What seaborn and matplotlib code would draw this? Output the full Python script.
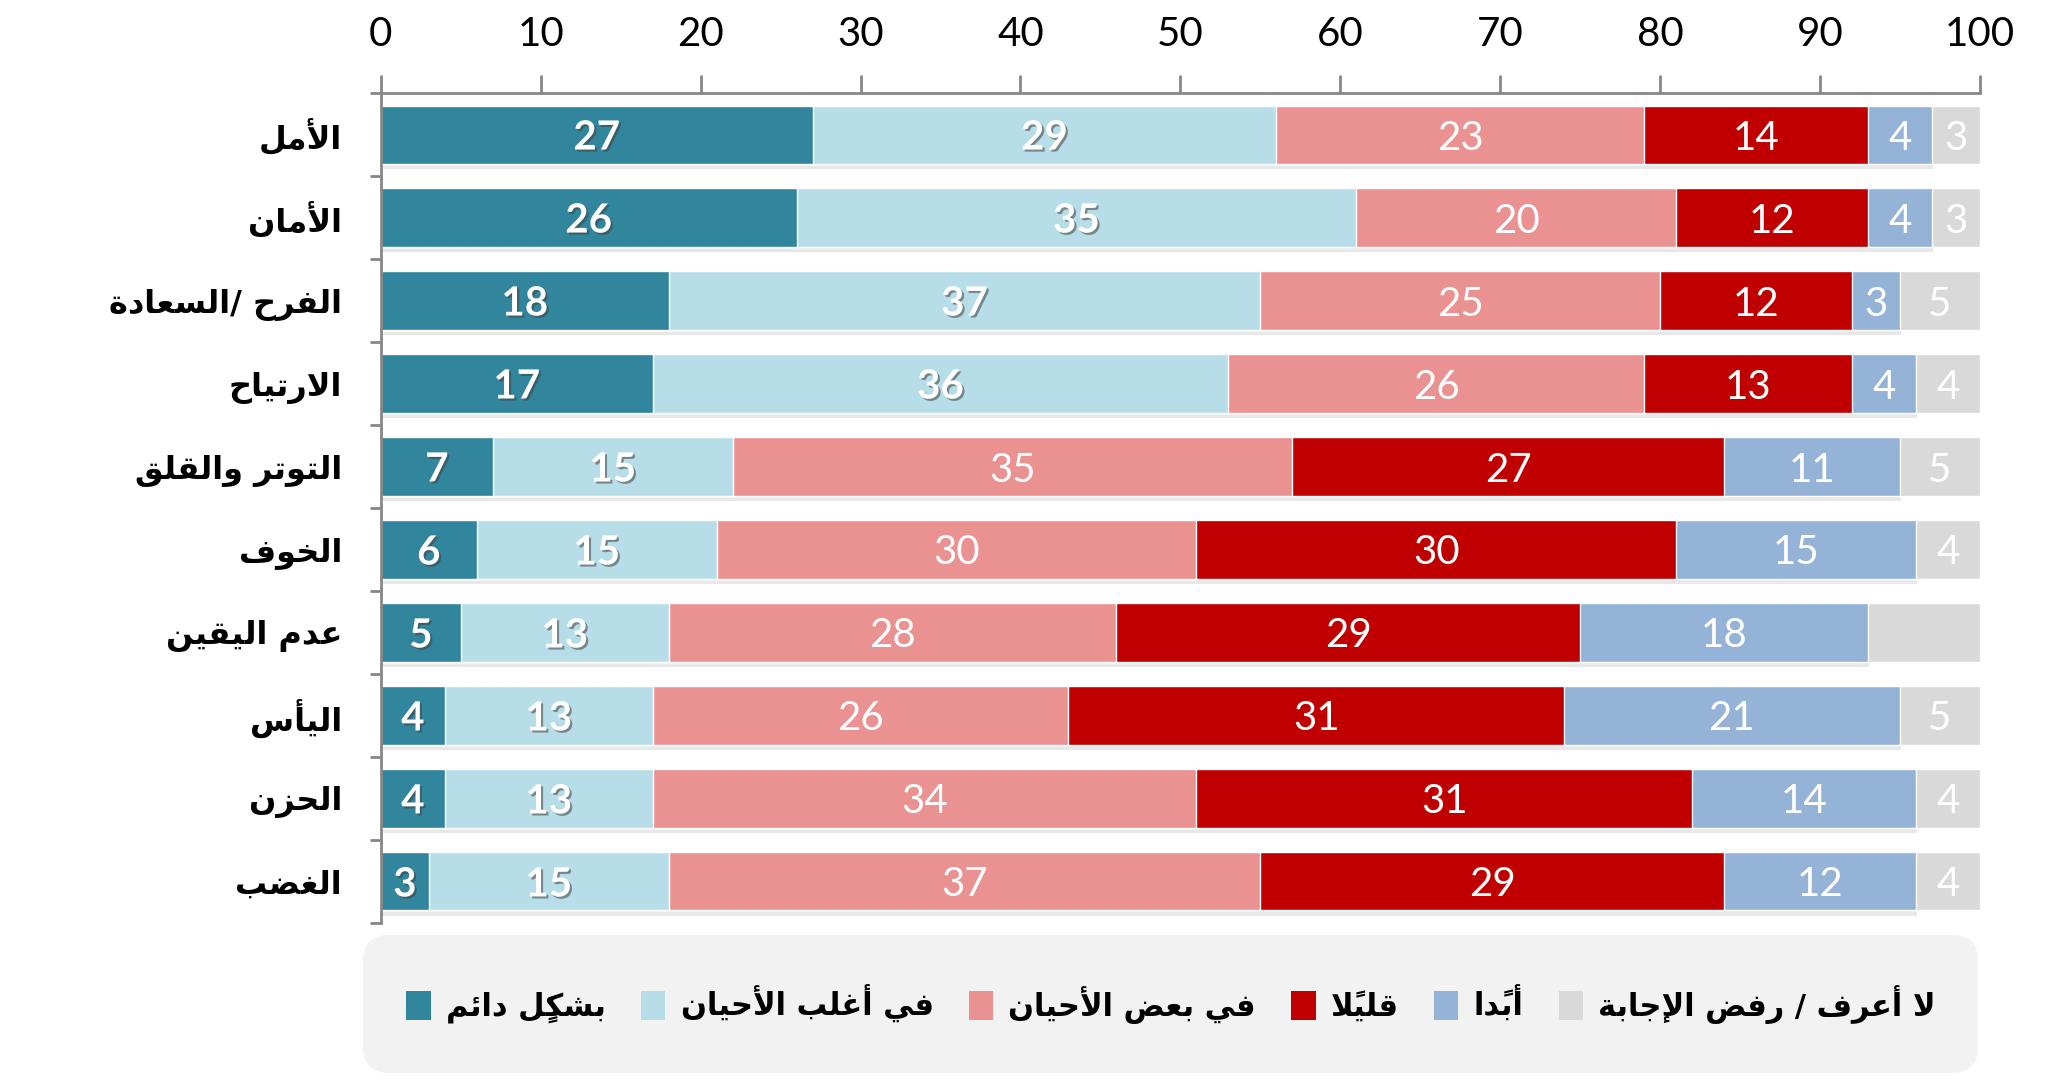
import numpy as np
import pandas as pd
import seaborn as sns
import matplotlib
matplotlib.use("Agg")
import matplotlib.pyplot as plt
import matplotlib.patheffects as pe
from matplotlib.patches import Patch, FancyBboxPatch

# البيانات
emotions = ['الأمل', 'الأمان', 'الفرح /السعادة', 'الارتياح', 'التوتر والقلق',
            'الخوف', 'عدم اليقين', 'اليأس', 'الحزن', 'الغضب']
answers = ['بشكلٍ دائم', 'في أغلب الأحيان', 'في بعض الأحيان', 'قليلًا', 'أبدًا',
           'لا أعرف / رفض الإجابة']
always = [27, 26, 18, 17, 7, 6, 5, 4, 4, 3]
mostly = [29, 35, 37, 36, 15, 15, 13, 13, 13, 15]
sometimes = [23, 20, 25, 26, 35, 30, 28, 26, 34, 37]
rarely = [14, 12, 12, 13, 27, 30, 29, 31, 31, 29]
never = [4, 4, 3, 4, 11, 15, 18, 21, 14, 12]
dont_know = [3, 3, 5, 4, 5, 4, 7, 5, 4, 4]
# the value of "عدم اليقين" in the last series carries no label in the original
dont_know_labelled = [True, True, True, True, True, True, False, True, True, True]
x_ticks = [0, 10, 20, 30, 40, 50, 60, 70, 80, 90, 100]

colors = ['#31859C', '#B7DEE8', '#EA9192', '#C00000', '#95B3D7', '#D9D9D9']

# matplotlib has no arabic shaping: use presentation forms and reverse
RIGHT = {'آ': 0xFE81, 'أ': 0xFE83, 'ؤ': 0xFE85, 'إ': 0xFE87, 'ا': 0xFE8D, 'ة': 0xFE93,
         'د': 0xFEA9, 'ذ': 0xFEAB, 'ر': 0xFEAD, 'ز': 0xFEAF, 'و': 0xFEED, 'ى': 0xFEEF}
DUAL = {'ئ': 0xFE89, 'ب': 0xFE8F, 'ت': 0xFE95, 'ث': 0xFE99, 'ج': 0xFE9D, 'ح': 0xFEA1,
        'خ': 0xFEA5, 'س': 0xFEB1, 'ش': 0xFEB5, 'ص': 0xFEB9, 'ض': 0xFEBD, 'ط': 0xFEC1,
        'ظ': 0xFEC5, 'ع': 0xFEC9, 'غ': 0xFECD, 'ف': 0xFED1, 'ق': 0xFED5, 'ك': 0xFED9,
        'ل': 0xFEDD, 'م': 0xFEE1, 'ن': 0xFEE5, 'ه': 0xFEE9, 'ي': 0xFEF1}
LAM_ALEF = {'آ': 0xFEF5, 'أ': 0xFEF7, 'إ': 0xFEF9, 'ا': 0xFEFB}
MARKS = set(chr(c) for c in range(0x064B, 0x0653)) | {'\u0670'}


def shape_ar(text):
    units = []
    i = 0
    while i < len(text):
        ch = text[i]
        if ch in MARKS and units:
            units[-1][2] += ch
            i += 1
            continue
        if ch == 'ل':
            j = i + 1
            m = ''
            while j < len(text) and text[j] in MARKS:
                m += text[j]
                j += 1
            if j < len(text) and text[j] in LAM_ALEF:
                units.append([LAM_ALEF[text[j]], 2, m])
                i = j + 1
                continue
        if ch in DUAL:
            units.append([DUAL[ch], 4, ''])
        elif ch in RIGHT:
            units.append([RIGHT[ch], 2, ''])
        elif ch == 'ء':
            units.append([0xFE80, 1, ''])
        else:
            units.append([ch, 0, ''])
        i += 1
    out = []
    for k, (base, n, marks) in enumerate(units):
        if n == 0:
            out.append(base + marks)
            continue
        prev_join = k > 0 and units[k - 1][1] == 4
        next_join = n == 4 and k + 1 < len(units) and units[k + 1][1] >= 2
        if n == 1:
            form = 0
        elif n == 2:
            form = 1 if prev_join else 0
        else:
            form = (1 if prev_join else 0) + (2 if next_join else 0)
        out.append(chr(base + form) + marks)
    return ''.join(reversed(out))


sns.set_style('white')
plt.rcParams['font.family'] = ['Lato', 'DejaVu Sans']
plt.rcParams['text.color'] = 'black'
plt.rcParams['xtick.color'] = 'black'
plt.rcParams['ytick.color'] = 'black'

series = [always, mostly, sometimes, rarely, never, dont_know]
labels_y = [shape_ar(e) for e in emotions]
cum = np.cumsum(np.array(series), axis=0)

fig = plt.figure(figsize=(20.69, 10.82), dpi=100)
ax = fig.add_axes([0.1841, 0.147, 0.7728, 0.767])

# stacked bars: draw cumulative totals from the longest to the shortest
for k in range(len(series) - 1, -1, -1):
    n_before = len(ax.patches)
    df = pd.DataFrame({'value': cum[k], 'emotion': labels_y})
    sns.barplot(data=df, x='value', y='emotion', orient='h', color=colors[k],
                saturation=1, width=0.7, errorbar=None, ax=ax)
    if k == 4:
        for p in ax.patches[n_before:]:
            p.set_path_effects([pe.SimplePatchShadow(offset=(1, -4), shadow_rgbFace='k', alpha=0.09),
                                pe.Normal()])

# value labels
shadow = [pe.SimplePatchShadow(offset=(1.5, -1.5), shadow_rgbFace='#404040', alpha=0.55), pe.Normal()]
for k, vals in enumerate(series):
    for i, v in enumerate(vals):
        if k == 5 and not dont_know_labelled[i]:
            continue
        xc = cum[k][i] - v / 2
        if k < 2:
            ax.text(xc, i, str(v), ha='center', va='center_baseline', color='white', fontsize=29,
                    fontweight='bold', path_effects=shadow)
        else:
            ax.text(xc, i, str(v), ha='center', va='center_baseline', color='white', fontsize=29)

ax.set_xlim(0, 100)
ax.set_ylim(len(emotions) - 0.5, -0.5)
ax.xaxis.tick_top()
ax.set_xticks(x_ticks)
ax.set_xlabel('')
ax.set_ylabel('')
ax.tick_params(axis='x', top=True, direction='out', length=13, width=2, color='#878787',
               labelcolor='black', labelsize=29, pad=16)
ax.set_yticks(np.arange(-0.5, len(emotions), 1), minor=True)
ax.tick_params(axis='y', which='major', length=0, pad=28, labelcolor='black')
ax.tick_params(axis='y', which='minor', left=True, direction='out', length=8, width=2, color='#878787')
for t in ax.get_yticklabels():
    t.set_fontfamily(['DejaVu Sans'])
    t.set_fontweight('bold')
    t.set_fontsize(23)
for s in ['right', 'bottom']:
    ax.spines[s].set_visible(False)
for s in ['top', 'left']:
    ax.spines[s].set_color('#878787')
    ax.spines[s].set_linewidth(2)
ax.grid(False)

# legend with rounded grey box
box = FancyBboxPatch((0.1755, 0.0083), 0.7805, 0.1277,
                     boxstyle='round,pad=0,rounding_size=0.0125',
                     mutation_aspect=2069 / 1082, transform=fig.transFigure,
                     facecolor='#F2F2F2', edgecolor='none', zorder=0)
fig.patches.append(box)
handles = [Patch(facecolor=c, edgecolor='none') for c in colors]
fig.legend(handles, [shape_ar(a) for a in answers], loc='center', bbox_to_anchor=(0.566, 0.072),
           ncol=6, frameon=False, labelcolor='black',
           prop=dict(family=['DejaVu Sans'], weight='bold', size=22),
           handlelength=0.8, handleheight=1.1, handletextpad=0.5, columnspacing=1.15)

fig.savefig('out.png', dpi=100)
